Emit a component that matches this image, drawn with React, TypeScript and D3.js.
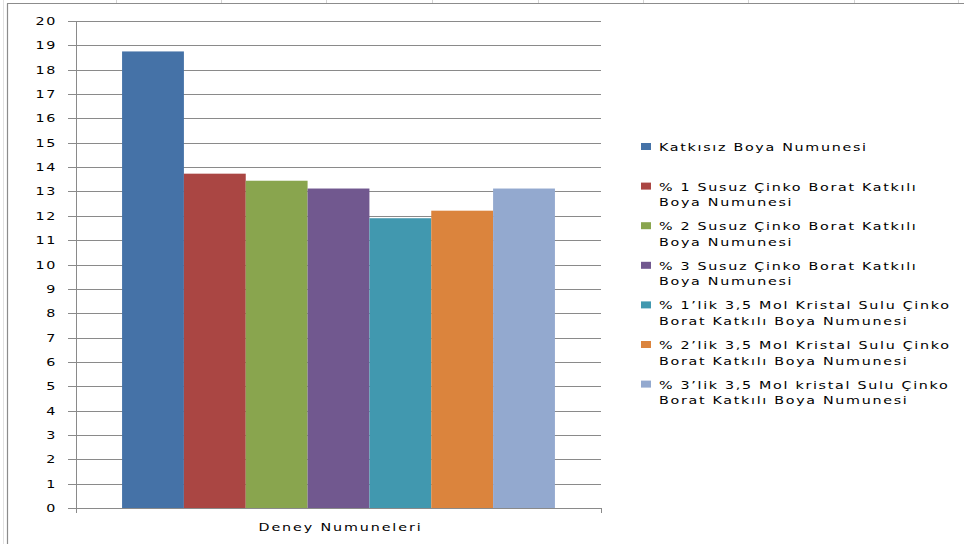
import React from "react";
import * as d3 from "d3";

// Sample names (legend order) and measured values
const category = "Deney Numuneleri";
const seriesNames = [
  ["Katkısız Boya Numunesi"],
  ["% 1 Susuz Çinko Borat Katkılı", "Boya Numunesi"],
  ["% 2 Susuz Çinko Borat Katkılı", "Boya Numunesi"],
  ["% 3 Susuz Çinko Borat Katkılı", "Boya Numunesi"],
  ["% 1’lik 3,5 Mol Kristal Sulu Çinko", "Borat Katkılı Boya Numunesi"],
  ["% 2’lik 3,5 Mol Kristal Sulu Çinko", "Borat Katkılı Boya Numunesi"],
  ["% 3’lik 3,5 Mol kristal Sulu Çinko", "Borat Katkılı Boya Numunesi"],
];
const values = [18.75, 13.73, 13.44, 13.12, 11.9, 12.21, 13.12];
const yTicks = d3.range(0, 21, 1);

const palette = ["#4572A7", "#AA4643", "#89A54E", "#71588F", "#4198AF", "#DB843D", "#93A9CF"];

const W = 964;
const H = 544;
const FONT = "'DejaVu Sans', Verdana, sans-serif";
const STRETCH = 1.3;
const SPACING = 1.3;

export default function App() {
  const plot = { left: 76, right: 601, top: 21, bottom: 508 };
  const y = d3.scaleLinear().domain([0, 20]).range([plot.bottom, plot.top]);
  const x0 = d3.scaleBand<string>().domain([category]).range([plot.left, plot.right]);
  const keys = seriesNames.map((_, i) => String(i));
  const x1 = d3
    .scaleBand<string>()
    .domain(keys)
    .range([0, x0.bandwidth()])
    .paddingInner(0)
    .paddingOuter(0.745);

  const gridColor = "#8a8a8a";
  const sheetCols = [116, 221, 326, 432, 538, 643, 748, 854, 958];

  const legendX = 641;
  const legendTop = 147;
  const entryStep = 39.6;
  const lineStep = 15.6;

  return (
    <svg
      width={W}
      height={H}
      style={{ position: "absolute", left: 0, top: 0, background: "#fff" }}
      fontFamily={FONT}
    >
      {/* worksheet cell lines peeking out behind the chart */}
      {sheetCols.map((c) => (
        <line key={c} x1={c + 0.5} x2={c + 0.5} y1={0} y2={3} stroke="#d4d4d4" />
      ))}
      <line x1={3.5} x2={3.5} y1={0} y2={H} stroke="#e2e2e2" />

      {/* chart frame */}
      <line x1={7} x2={W} y1={3.5} y2={3.5} stroke="#8c8c8c" strokeWidth={1.2} />
      <line x1={7.5} x2={7.5} y1={3.5} y2={H} stroke="#8c8c8c" strokeWidth={1.2} />

      {/* horizontal gridlines */}
      {yTicks.map((t) => (
        <line
          key={"g" + t}
          x1={plot.left - 8}
          x2={plot.right}
          y1={Math.round(y(t)) + 0.5}
          y2={Math.round(y(t)) + 0.5}
          stroke={gridColor}
          strokeWidth={1}
        />
      ))}

      {/* bars */}
      {values.map((v, i) => (
        <rect
          key={"b" + i}
          x={(x0(category) as number) + (x1(keys[i]) as number)}
          y={y(v)}
          width={x1.bandwidth()}
          height={y(0) - y(v)}
          fill={palette[i]}
        />
      ))}

      {/* value axis */}
      <line x1={plot.left + 0.5} x2={plot.left + 0.5} y1={plot.top} y2={plot.bottom} stroke={gridColor} />
      {yTicks.map((t) => (
        <text
          key={"t" + t}
          transform={`translate(57,${y(t) + 4}) scale(${STRETCH},1)`}
          textAnchor="end"
          fontSize={11}
          letterSpacing={SPACING}
          fill="#000"
        >
          {t}
        </text>
      ))}

      {/* category axis */}
      <line x1={plot.left - 8} x2={plot.right} y1={plot.bottom + 0.5} y2={plot.bottom + 0.5} stroke={gridColor} />
      <line x1={plot.left + 0.5} x2={plot.left + 0.5} y1={plot.bottom} y2={plot.bottom + 5} stroke={gridColor} />
      <line x1={plot.right + 0.5} x2={plot.right + 0.5} y1={plot.bottom} y2={plot.bottom + 5} stroke={gridColor} />
      <text
        transform={`translate(${(plot.left + plot.right) / 2 + 2},${531}) scale(${STRETCH},1)`}
        textAnchor="middle"
        fontSize={11}
        letterSpacing={1.45}
        fill="#000"
      >
        {category}
      </text>

      {/* legend */}
      {seriesNames.map((lines, i) => {
        const ty = legendTop + i * entryStep;
        return (
          <g key={"l" + i}>
            <rect x={legendX} y={ty - 4} width={10} height={7} fill={palette[i]} />
            {lines.map((ln, j) => (
              <text
                key={j}
                transform={`translate(659,${ty + 4 + j * lineStep}) scale(${STRETCH},1)`}
                fontSize={11}
                letterSpacing={SPACING}
                fill="#000"
              >
                {ln}
              </text>
            ))}
          </g>
        );
      })}
    </svg>
  );
}
